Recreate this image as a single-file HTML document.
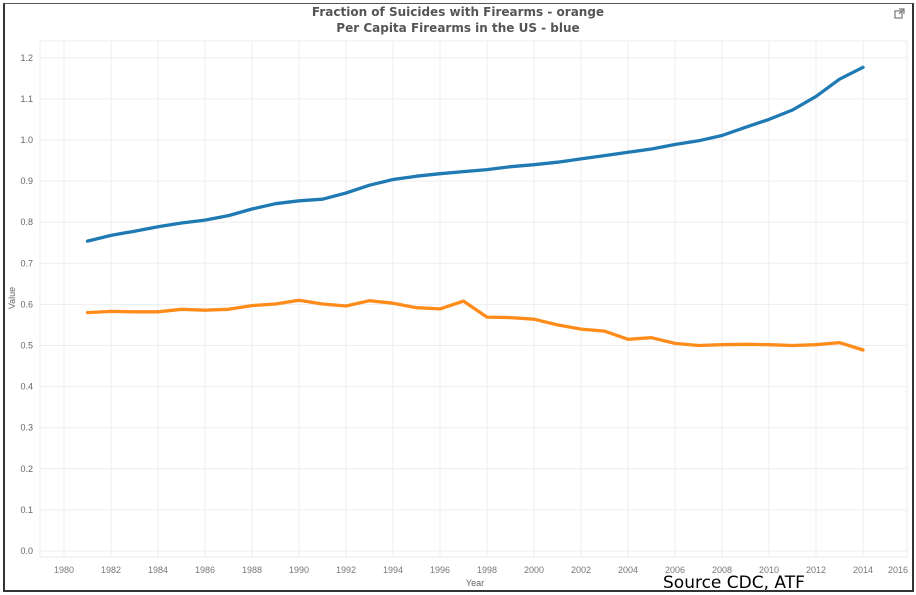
<!DOCTYPE html>
<html><head><meta charset="utf-8"><style>
html,body{margin:0;padding:0;background:#fff;}
body{width:916px;height:595px;overflow:hidden;position:relative;font-family:"Liberation Sans",sans-serif;}
</style></head><body>
<div style="position:absolute;left:3px;top:3px;width:907px;height:586px;border:2px solid #333;border-top:1px solid #555;"></div>
<svg id="chart" width="916" height="595" style="position:absolute;left:0;top:0">
<text x="458" y="16" text-anchor="middle" font-size="12" font-weight="bold" fill="#555" font-family="DejaVu Sans, sans-serif">Fraction of Suicides with Firearms - orange</text>
<text x="458" y="32" text-anchor="middle" font-size="12" font-weight="bold" fill="#555" font-family="DejaVu Sans, sans-serif">Per Capita Firearms in the US - blue</text>
<g stroke="#777" fill="none" stroke-width="1.2"><rect x="895" y="11" width="7" height="7"/><path d="M899 9h5v5M904 9l-5 5"/></g>
<text transform="translate(15,298) rotate(-90)" text-anchor="middle" font-size="9" fill="#666">Value</text>
<text x="475" y="586" text-anchor="middle" font-size="9" fill="#666">Year</text>
<text x="663" y="588" font-size="17" fill="#000" font-family="DejaVu Sans, sans-serif">Source CDC, ATF</text>
</svg>
<script>
const years=[1981,1982,1983,1984,1985,1986,1987,1988,1989,1990,1991,1992,1993,1994,1995,1996,1997,1998,1999,2000,2001,2002,2003,2004,2005,2006,2007,2008,2009,2010,2011,2012,2013,2014];
const blueValues=[.754,.768,.778,.789,.798,.805,.816,.832,.845,.852,.856,.871,.890,.904,.912,.918,.923,.928,.935,.940,.946,.954,.962,.970,.978,.989,.998,1.011,1.031,1.050,1.073,1.106,1.148,1.177];
const orangeValues=[.580,.583,.582,.582,.588,.586,.588,.597,.601,.610,.601,.596,.609,.603,.592,.589,.608,.569,.568,.564,.550,.540,.535,.515,.519,.505,.500,.502,.503,.502,.500,.502,.507,.489];
const yTicks=[0,0.1,0.2,0.3,0.4,0.5,0.6,0.7,0.8,0.9,1.0,1.1,1.2];
const xTicks=[1980,1982,1984,1986,1988,1990,1992,1994,1996,1998,2000,2002,2004,2006,2008,2010,2012,2014,2016];
const svg=document.getElementById('chart');
const NS='http://www.w3.org/2000/svg';
const L=40,R=907,T=41,B=557;
const x=v=>64+(v-1980)*23.5;
const y=v=>551-v*411;
function add(tag,attrs){const e=document.createElementNS(NS,tag);for(const k in attrs)e.setAttribute(k,attrs[k]);svg.appendChild(e);return e;}
const bg=add('rect',{x:L,y:T,width:R-L,height:B-T,fill:'none',stroke:'#eee'});


yTicks.forEach(t=>{
 const g=add('line',{x1:L,x2:R,y1:y(t),y2:y(t),stroke:'#eee'});
 
 
 const tx=add('text',{x:33,y:y(t)+3,'text-anchor':'end','font-size':'9',fill:'#666'});
 tx.textContent=t.toFixed(1);
 
 
});
xTicks.forEach(t=>{
 const px=x(t);
 if(px<R){const g=add('line',{x1:px,x2:px,y1:T,y2:B,stroke:'#eee'});
 
 }
 const tx=add('text',{x:Math.min(px,898),y:573,'text-anchor':'middle','font-size':'9',fill:'#777'});
 tx.textContent=t;
 
 
});
function line(vals,color,name){
 const d=vals.map((v,i)=>(i?'L':'M')+x(years[i]).toFixed(1)+' '+y(v).toFixed(1)).join(' ');
 const p=add('path',{d:d,fill:'none',stroke:color,'stroke-width':'3.3','stroke-linejoin':'round','stroke-linecap':'round'});
 
 
}
line(blueValues,'#1f7ab4','series-per-capita-firearms');
line(orangeValues,'#ff8c1a','series-suicide-firearm-fraction');
</script>
</body></html>
